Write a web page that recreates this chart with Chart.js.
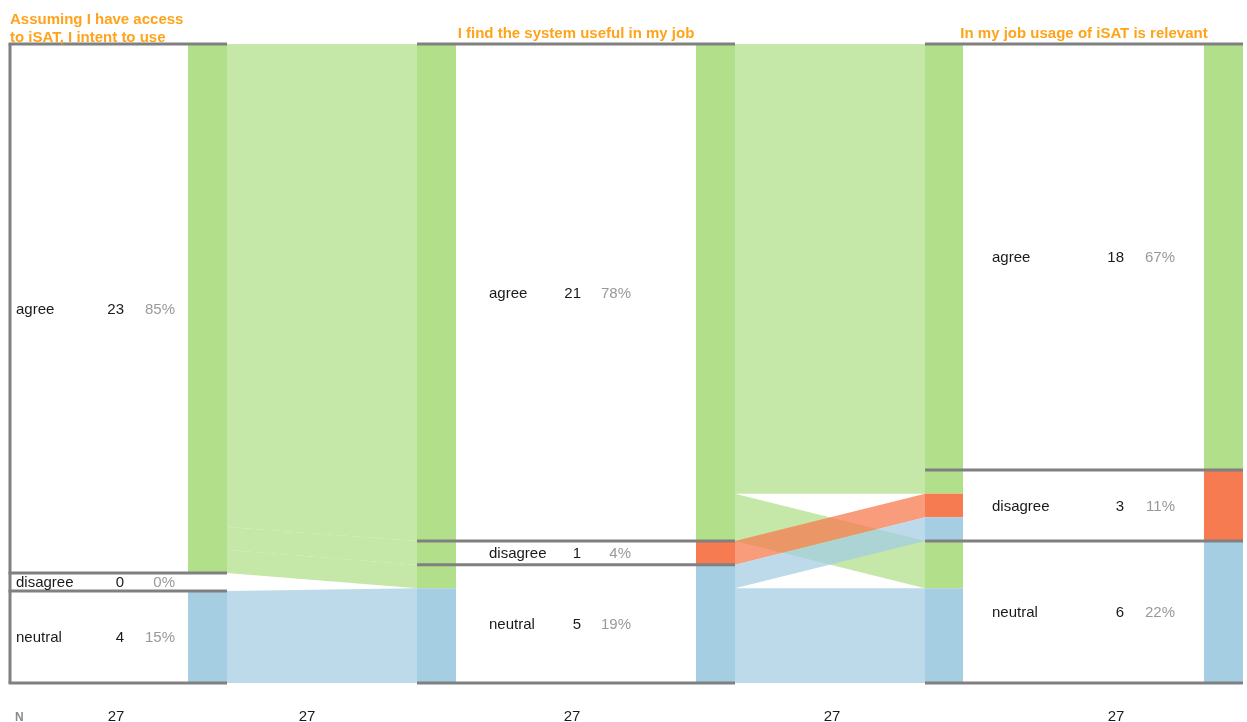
<!DOCTYPE html>
<html><head><meta charset="utf-8">
<script src="https://cdn.jsdelivr.net/npm/chart.js@4.4.1/dist/chart.umd.min.js"></script>
<style>html,body{margin:0;padding:0;background:#fff;}canvas{display:block;}</style>
</head><body>
<canvas id="c" width="1247" height="722"></canvas>
<script>
// ---------- data ----------
const stageTitles = [["Assuming I have access", "to iSAT, I intent to use"], ["I find the system useful in my job"], ["In my job usage of iSAT is relevant"]];
const categories = ["agree", "disagree", "neutral"];
const stage1Counts = [23, 0, 4];
const stage2Counts = [21, 1, 5];
const stage3Counts = [18, 3, 6];
// transitions: rows = from category, cols = to category
const flow12 = [[21, 1, 1], [0, 0, 0], [0, 0, 4]];
const flow23 = [[18, 1, 2], [0, 1, 0], [0, 1, 4]];
const nLabels = ["27", "27", "27", "27", "27"];

// ---------- styles / layout ----------
const catColors = ["#B2DF8A", "#F77B50", "#A6CEE3"];
const FONT = '"Liberation Sans", Arial, sans-serif';
const TOTAL = 27;         // y scale height in respondents
const MIN_H = 0.76;       // height given to empty categories
const stages = [
  { counts: stage1Counts, boxL: 0, boxR: 217, bars: [{ l: 178, r: 217, own: true }], labelX: 6, countR: 114, pctR: 165, leftLine: true },
  { counts: stage2Counts, boxL: 407, boxR: 725, bars: [{ l: 407, r: 446, own: false }, { l: 686, r: 725, own: true }], labelX: 479, countR: 571, pctR: 621 },
  { counts: stage3Counts, boxL: 915, boxR: 1233, bars: [{ l: 915, r: 953, own: false }, { l: 1194, r: 1233, own: true }], labelX: 982, countR: 1114, pctR: 1165 }
];
const flows = [{ m: flow12, from: 0, to: 1, x0: 217, x1: 407 }, { m: flow23, from: 1, to: 2, x0: 725, x1: 915 }];
const nX = [106, 297, 562, 822, 1106];

function layoutStage(counts) {
  const N = counts.reduce((a, b) => a + b, 0);
  const nZero = counts.filter(c => c === 0).length;
  const unit = (TOTAL - nZero * MIN_H) / N;
  let y = 0;
  const segs = counts.map(c => { const h = c > 0 ? c * unit : MIN_H; const s = { y0: y, y1: y + h }; y += h; return s; });
  return { segs, unit, N };
}
function hexA(hex, a) {
  const r = parseInt(hex.slice(1, 3), 16), g = parseInt(hex.slice(3, 5), 16), b = parseInt(hex.slice(5, 7), 16);
  return `rgba(${r},${g},${b},${a})`;
}

const alluvial = {
  id: 'alluvial',
  afterDraw(chart) {
    const ctx = chart.ctx, xs = chart.scales.x, ys = chart.scales.y;
    const X = v => xs.getPixelForValue(v), Y = v => ys.getPixelForValue(v);
    const L = stages.map(s => layoutStage(s.counts));
    const originSegs = [null, null, null];
    ctx.save();
    // flows
    flows.forEach(f => {
      const S = L[f.from], D = L[f.to], m = f.m;
      const src = m.map(r => r.map(() => null)), dst = m.map(r => r.map(() => null));
      categories.forEach((_, i) => { let y = S.segs[i].y0; categories.forEach((_, j) => { const h = m[i][j] * S.unit; src[i][j] = [y, y + h]; y += h; }); });
      const og = [];
      categories.forEach((_, j) => { let y = D.segs[j].y0; categories.forEach((_, i) => { const h = m[i][j] * D.unit; dst[i][j] = [y, y + h]; if (h > 0) og.push({ y0: y, y1: y + h, c: i }); y += h; }); });
      originSegs[f.to] = og;
      categories.forEach((_, i) => categories.forEach((_, j) => {
        if (m[i][j] <= 0) return;
        ctx.beginPath();
        ctx.moveTo(X(f.x0), Y(src[i][j][0]));
        ctx.lineTo(X(f.x1), Y(dst[i][j][0]));
        ctx.lineTo(X(f.x1), Y(dst[i][j][1]));
        ctx.lineTo(X(f.x0), Y(src[i][j][1]));
        ctx.closePath();
        ctx.fillStyle = hexA(catColors[i], 0.75);
        ctx.fill();
      }));
    });
    // bars
    stages.forEach((s, k) => {
      s.bars.forEach(b => {
        const segs = b.own ? L[k].segs.map((g, i) => ({ y0: g.y0, y1: g.y1, c: i, n: s.counts[i] })).filter(g => g.n > 0) : originSegs[k];
        segs.forEach(g => {
          ctx.fillStyle = catColors[g.c];
          ctx.fillRect(X(b.l), Y(g.y0), X(b.r) - X(b.l), Y(g.y1) - Y(g.y0));
        });
      });
    });
    // lines
    ctx.strokeStyle = '#808080'; ctx.lineWidth = 3;
    stages.forEach((s, k) => {
      const bounds = [0].concat(L[k].segs.map(g => g.y1));
      bounds.forEach(v => { ctx.beginPath(); ctx.moveTo(X(s.boxL) - (s.leftLine ? 1.5 : 0), Y(v)); ctx.lineTo(X(s.boxR), Y(v)); ctx.stroke(); });
      if (s.leftLine) { ctx.beginPath(); ctx.moveTo(X(s.boxL), Y(0)); ctx.lineTo(X(s.boxL), Y(TOTAL)); ctx.stroke(); }
    });
    // category labels
    ctx.font = '15px ' + FONT; ctx.textBaseline = 'middle';
    stages.forEach((s, k) => {
      const N = L[k].N;
      L[k].segs.forEach((g, i) => {
        const ym = (Y(g.y0) + Y(g.y1)) / 2 + 1;
        ctx.textAlign = 'left'; ctx.fillStyle = '#1a1a1a'; ctx.fillText(categories[i], X(s.labelX), ym);
        ctx.textAlign = 'right'; ctx.fillText(String(s.counts[i]), X(s.countR), ym);
        ctx.fillStyle = '#999999'; ctx.fillText(Math.round(s.counts[i] / N * 100) + '%', X(s.pctR), ym);
      });
    });
    // titles
    ctx.font = 'bold 15px ' + FONT; ctx.fillStyle = '#FFA31A'; ctx.textBaseline = 'alphabetic';
    ctx.textAlign = 'left';
    stageTitles[0].forEach((t, i) => ctx.fillText(t, X(stages[0].boxL), 23.5 + i * 18.5));
    ctx.textAlign = 'center';
    [1, 2].forEach(k => ctx.fillText(stageTitles[k][0], (X(stages[k].boxL) + X(stages[k].boxR)) / 2, 37.5));
    // N row
    const yN = Y(TOTAL) + 34;
    ctx.textBaseline = 'middle';
    ctx.font = 'bold 12px ' + FONT; ctx.fillStyle = '#8a8a8a'; ctx.textAlign = 'left';
    ctx.fillText('N', X(5), yN + 1);
    ctx.font = '15px ' + FONT; ctx.fillStyle = '#1a1a1a'; ctx.textAlign = 'center';
    nLabels.forEach((t, i) => ctx.fillText(t, X(nX[i]), yN));
    ctx.restore();
  }
};

new Chart(document.getElementById('c'), {
  type: 'scatter',
  data: { datasets: [] },
  options: {
    responsive: false, animation: false, events: [],
    layout: { padding: { left: 10, right: 4, top: 44, bottom: 39 } },
    plugins: { legend: { display: false }, tooltip: { enabled: false } },
    scales: {
      x: { type: 'linear', min: 0, max: 1233, display: false },
      y: { type: 'linear', min: 0, max: TOTAL, reverse: true, display: false }
    }
  },
  plugins: [alluvial]
});
</script>
</body></html>
